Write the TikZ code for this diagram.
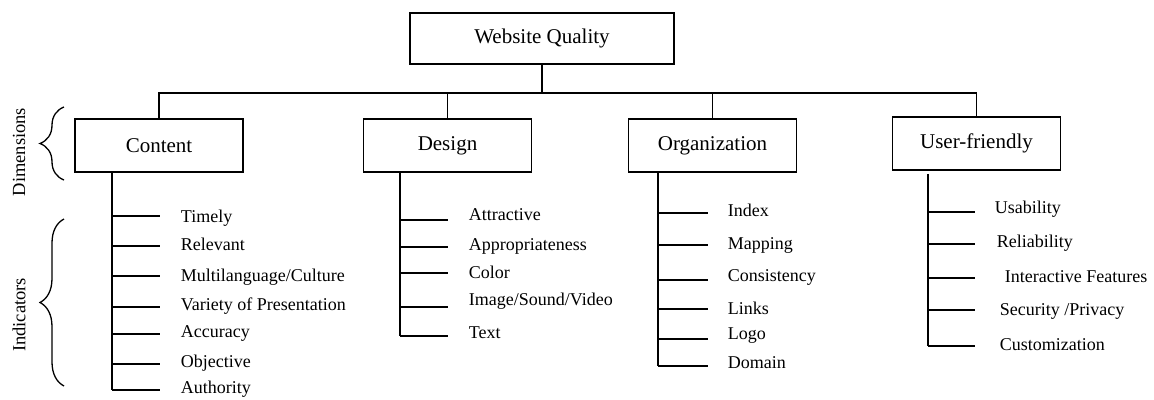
\documentclass[tikz,border=0pt]{standalone}
\usepackage{fontspec}
\setmainfont{Liberation Serif}
\usetikzlibrary{decorations.pathreplacing}

\tikzset{
	dimbox/.style = {draw, minimum width = 168, minimum height = 53, font = \fontsize{21}{25}\selectfont},
	indlabel/.style = {anchor = west, inner sep = 0, font = \fontsize{18}{22}\selectfont},
	sidelabel/.style = {rotate = 90, font = \fontsize{18.5}{22}\selectfont},
	sidebrace/.style = {decorate, decoration = {brace, amplitude = 24}}
}

\begin{document}
\begin{tikzpicture}[x = 1pt, y = -1pt, line width = 1.8]

\useasboundingbox (0, 0) rectangle (1154, 399);

% main and dimension boxes
\node [dimbox, minimum width = 264, minimum height = 51] (quality) at (542, 38.5) {Website Quality};
\node [dimbox] (content) at (159, 145.5) {Content};
\node [dimbox] (design) at (447.5, 145.5) {Design};
\node [dimbox] (organization) at (712.5, 145.5) {Organization};
\node [dimbox] (userfriendly) at (976.5, 143.5) {User-friendly};

\coordinate (bus) at (542, 93);
\draw (quality.south) -- (quality.south |- bus);
\draw (content.north) |- (bus) -| (userfriendly.north);
\draw (design.north) -- (design.north |- bus);
\draw (organization.north) -- (organization.north |- bus);

% indicators: tick y / label x / label y / name / text
\foreach \y/\lx/\ly/\nm/\lbl in {216/180/218/timely/Timely, 246/180/244/relevant/Relevant,
		276/180/277/multilang/{Multilanguage/Culture}, 307/180/306/variety/Variety of Presentation,
		334/180/333/accuracy/Accuracy, 364/180/363/objective/Objective, 390/180/389/authority/Authority}{
	\coordinate (\nm-t) at (112, \y);
	\coordinate (\nm-e) at (160, \y);
	\node [indlabel] (\nm) at (\lx, \ly) {\lbl};
	\draw (\nm-t) -- (\nm-e);
}
\draw (content.south -| timely-t) -- (authority-t);

\foreach \y/\lx/\ly/\nm/\lbl in {220/468/215/attractive/Attractive, 247/468/246/appropriate/Appropriateness,
		273/468/272/color/Color, 307/468/301/media/{Image/Sound/Video}, 336/468/333/text/Text}{
	\coordinate (\nm-t) at (400, \y);
	\coordinate (\nm-e) at (448, \y);
	\node [indlabel] (\nm) at (\lx, \ly) {\lbl};
	\draw (\nm-t) -- (\nm-e);
}
\draw (design.south -| attractive-t) -- (text-t);

\foreach \y/\lx/\ly/\nm/\lbl in {213/727/210/index/Index, 245/727/245/mapping/Mapping,
		280/727/277/consistency/Consistency, 309/727/308/links/Links, 339/727/336/logo/Logo,
		366/727/363/domain/Domain}{
	\coordinate (\nm-t) at (658, \y);
	\coordinate (\nm-e) at (708, \y);
	\node [indlabel] (\nm) at (\lx, \ly) {\lbl};
	\draw (\nm-t) -- (\nm-e);
}
\draw (organization.south -| index-t) -- (domain-t);

\foreach \y/\lx/\ly/\nm/\lbl in {212/994/209/usability/Usability, 244/996/243/reliability/Reliability,
		278/1004/277/interactive/Interactive Features, 310/999/311/security/{Security /Privacy},
		346/999/345/customization/Customization}{
	\coordinate (\nm-t) at (928, \y);
	\coordinate (\nm-e) at (975, \y);
	\node [indlabel] (\nm) at (\lx, \ly) {\lbl};
	\draw (\nm-t) -- (\nm-e);
}
\draw ([yshift = -3]userfriendly.south -| usability-t) -- (customization-t);

% side braces
\draw [sidebrace, line width = 1.3] (64, 180) -- (64, 107);
\draw [sidebrace, line width = 1.3] (64, 386) -- (64, 219);
\node [sidelabel] (dimensions) at (19, 152) {Dimensions};
\node [sidelabel] (indicators) at (19, 315) {Indicators};

\end{tikzpicture}
\end{document}
